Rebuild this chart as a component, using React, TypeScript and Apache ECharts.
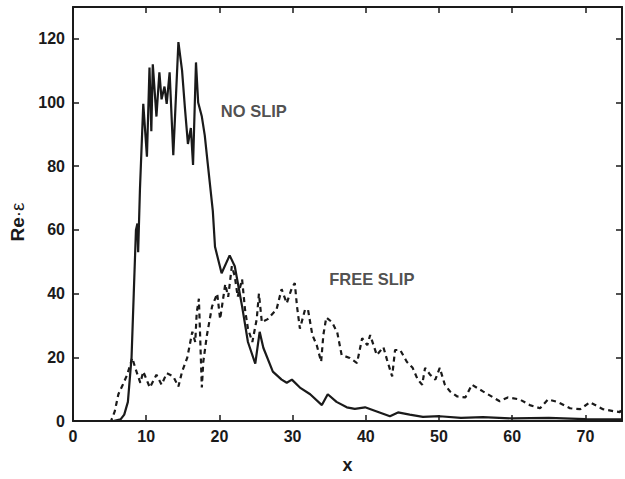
import React, { useEffect, useRef } from "react";
import * as echarts from "echarts";

const xTicks = [0, 10, 20, 30, 40, 50, 60, 70];
const yTicks = [0, 20, 40, 60, 80, 100, 120];

const noSlipX = [0, 5.5, 6.5, 7, 7.5, 8, 8.3, 8.6, 8.8, 8.9, 9.15, 9.6, 10.1, 10.45, 10.7, 10.9, 11.4, 11.8, 12.1, 12.5, 12.8, 13.2, 13.7, 14.4, 14.9, 15.3, 15.7, 16.1, 16.4, 16.8, 17.1, 17.6, 18.0, 18.4, 19.1, 19.4, 20.3, 21.4, 22.1, 23.1, 23.9, 24.9, 25.5, 26, 27.3, 28.5, 29.2, 29.9, 31, 32.4, 34, 34.8, 36, 37.4, 38.5, 39.9, 41.5, 43.3, 44.4, 46, 47.8, 50.1, 53, 56, 60, 65, 70, 75];
const noSlipY = [0, 0, 0.5, 2, 6, 20, 40, 60, 62, 53, 73, 99.6, 83, 111, 91, 112, 95.6, 109.5, 101, 105, 99.6, 109.5, 83.5, 119, 110, 98, 87, 92, 80.4, 112.6, 100, 95.6, 89.7, 81, 66, 54.7, 46.4, 52, 48.6, 36, 24.8, 18, 28, 23, 15.5, 13, 12, 13, 10.5, 8.4, 5, 8.4, 6, 4.3, 3.8, 4.3, 3, 1.5, 2.7, 2, 1.3, 1.5, 1, 1.2, 0.8, 1, 0.6, 0.5];

const freeSlipX = [0, 5.2, 5.7, 6.2, 6.8, 7.4, 8.1, 8.5, 9.2, 9.6, 10.5, 11.4, 12.1, 12.8, 13.7, 14.4, 14.9, 15.6, 16.3, 16.7, 16.9, 17.2, 17.6, 17.8, 18.3, 19, 19.7, 20.1, 20.8, 21.2, 21.7, 22.1, 22.5, 23.1, 23.5, 23.9, 24.5, 25.1, 25.4, 25.8, 26.6, 27.8, 28.5, 29.2, 29.9, 30.3, 30.6, 31, 31.7, 32.1, 32.7, 33.3, 33.9, 34.2, 34.6, 35.4, 36.1, 36.7, 37.8, 38.8, 39.5, 40.2, 40.6, 41.5, 42.4, 42.9, 43.6, 44, 44.7, 45.6, 46.4, 47.1, 47.7, 48.1, 48.8, 49.5, 50.1, 50.8, 51.5, 52.5, 53.6, 54.5, 56, 58.3, 59.4, 61, 62.4, 63.8, 64.9, 66.3, 67.9, 69.3, 70.6, 72.4, 73.8, 74.7, 75];
const freeSlipY = [0, 0, 3, 8.4, 11.4, 14.5, 19.8, 16.7, 12, 15.5, 10.5, 14.5, 11.4, 15, 14, 10.8, 15.5, 19.8, 28, 24.8, 34, 38.4, 10.5, 18.6, 27, 36, 40, 32, 43, 39, 48.6, 45.5, 39, 44.5, 35, 29, 24.8, 32, 40, 31, 32, 35, 41.4, 37, 41.8, 43.3, 36, 29, 35, 35, 27, 23.8, 18.6, 27, 32.5, 31, 27.8, 20.7, 19.8, 18.2, 26, 23.8, 27, 20.7, 23.2, 19.2, 14, 22.3, 22.3, 18.6, 16.7, 13, 11.4, 16.7, 14.5, 13, 16.7, 11.4, 9.3, 7.7, 7.4, 11.4, 9.3, 6.2, 7.4, 6.8, 5, 4, 6.8, 5.9, 4, 3.7, 5.9, 3.7, 3.1, 2.8, 4];

const labelNames = ["NO SLIP", "FREE SLIP"];
const labelX = [20.2, 35.0];
const labelY = [97.5, 44.5];

const ink = "#1a1a1a";
const font = "'Liberation Sans', Arial, sans-serif";

export default function App() {
  const ref = useRef<HTMLDivElement>(null);
  useEffect(() => {
    if (!ref.current) return;
    const chart = echarts.init(ref.current, undefined, { renderer: "svg" });
    const axisCommon = {
      axisLine: { show: true, onZero: false, lineStyle: { color: ink, width: 2 } },
      axisTick: { show: true, inside: true, length: 6, lineStyle: { color: ink, width: 1.5 } },
      splitLine: { show: false },
    };
    chart.setOption({
      animation: false,
      backgroundColor: "#ffffff",
      grid: { left: 73, right: 3, top: 7, bottom: 52, containLabel: false },
      xAxis: [
        {
          type: "value",
          min: 0,
          max: 75,
          interval: 10,
          name: "x",
          nameLocation: "middle",
          nameGap: 35,
          nameTextStyle: { fontFamily: font, fontWeight: "bold", fontSize: 18, color: ink },
          ...axisCommon,
          axisLabel: {
            show: true,
            margin: 7,
            fontFamily: font,
            fontWeight: "bold",
            fontSize: 16,
            color: ink,
            showMaxLabel: false,
            formatter: (v: number) => (xTicks.includes(v) ? String(v) : ""),
          },
        },
        {
          type: "value",
          position: "top",
          min: 0,
          max: 75,
          interval: 10,
          ...axisCommon,
          axisLabel: { show: false },
        },
      ],
      yAxis: [
        {
          type: "value",
          min: 0,
          max: 130,
          interval: 20,
          name: "{b|Re}{e|·ε}",
          nameLocation: "middle",
          nameGap: 38,
          nameRotate: 90,
          nameTextStyle: {
            color: ink,
            padding: [0, 16, 0, 0],
            rich: {
              b: { fontFamily: font, fontWeight: "bold", fontSize: 19, color: ink },
              e: { fontFamily: font, fontWeight: "normal", fontSize: 19, color: ink },
            },
          },
          ...axisCommon,
          axisLabel: {
            show: true,
            margin: 8,
            fontFamily: font,
            fontWeight: "bold",
            fontSize: 16,
            color: ink,
            formatter: (v: number) => (yTicks.includes(v) ? String(v) : ""),
          },
        },
        {
          type: "value",
          position: "right",
          min: 0,
          max: 130,
          interval: 20,
          ...axisCommon,
          axisLabel: { show: false },
        },
      ],
      series: [
        {
          type: "line",
          name: "NO SLIP",
          data: noSlipX.map((x, i) => [x, noSlipY[i]]),
          symbol: "none",
          lineStyle: { color: ink, width: 2.2 },
        },
        {
          type: "line",
          name: "FREE SLIP",
          data: freeSlipX.map((x, i) => [x, freeSlipY[i]]),
          symbol: "none",
          lineStyle: { color: ink, width: 2.2, type: [5, 4] },
        },
        {
          type: "scatter",
          data: labelNames.map((n, i) => ({ value: [labelX[i], labelY[i]], name: n })),
          symbolSize: 0,
          silent: true,
          label: {
            show: true,
            position: "right",
            distance: 0,
            formatter: (p: any) => p.name,
            fontFamily: font,
            fontWeight: "bold",
            fontSize: 16.5,
            color: "#222",
          },
        },
      ],
    });
    return () => chart.dispose();
  }, []);
  return (
    <div
      ref={ref}
      style={{ position: "absolute", left: 0, top: 0, width: 625, height: 479 }}
    />
  );
}
